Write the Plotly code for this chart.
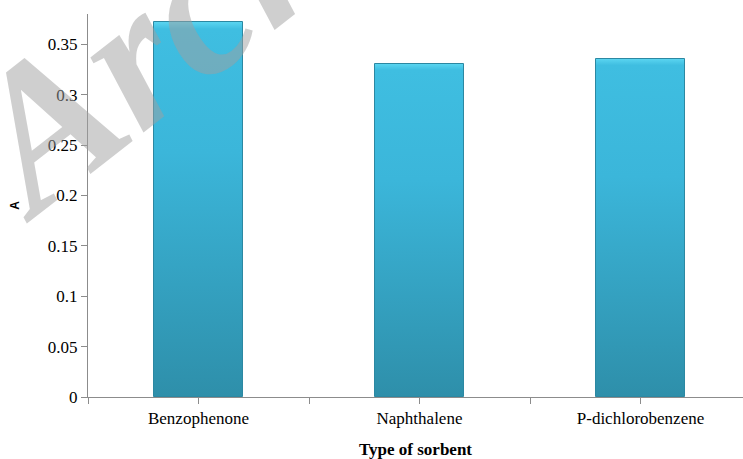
import plotly.graph_objects as go

categories = ["Benzophenone", "Naphthalene", "P-dichlorobenzene"]
values = [0.372, 0.330, 0.335]
y_ticks = [0, 0.05, 0.1, 0.15, 0.2, 0.25, 0.3, 0.35]
y_tick_text = ["0", "0.05", "0.1", "0.15", "0.2", "0.25", "0.3", "0.35"]

W, H = 743, 459
ML, MT, MB, MR = 88, 14, 62, 0
PW = W - ML - MR
PH = H - MT - MB

xpos = list(range(len(categories)))
xtickvals = []
xticktext = []
for i, c in enumerate(categories):
    xtickvals += [i - 0.5, i]
    xticktext += ["", c]
xtickvals.append(len(categories) - 0.5)
xticktext.append("")

fig = go.Figure()
fig.add_trace(go.Bar(
    x=xpos, y=values, width=0.4,
    marker=dict(color="#37AED1", line=dict(color="#2C88A2", width=1)),
    hoverinfo="skip",
))

def px_x(p):
    return (p - ML) / PW

def px_y(p):
    return 1 - (p - MT) / PH

fig.add_annotation(
    text="<b><i>Archive of SID</i></b>",
    xref="paper", yref="paper",
    x=px_x(-86), y=px_y(261), xanchor="left", yanchor="bottom",
    showarrow=False, textangle=-38,
    font=dict(family="Liberation Serif", size=200, color="rgba(160,160,160,0.5)"),
)

fig.update_layout(
    width=W, height=H,
    margin=dict(l=ML, r=MR, t=MT, b=MB, autoexpand=False),
    plot_bgcolor="white", paper_bgcolor="white",
    showlegend=False,
    bargap=0,
    xaxis=dict(
        range=[-0.5, -0.5 + PW / 221.0],
        automargin=False,
        tickmode="array", tickvals=xtickvals, ticktext=xticktext,
        ticks="outside", ticklen=6, tickcolor="#8c8c8c",
        showline=True, linecolor="#8c8c8c", linewidth=1,
        showgrid=False, zeroline=False,
        tickfont=dict(family="Liberation Serif", size=17, color="black"),
        title=dict(text="<b>Type of sorbent</b>", standoff=16,
                   font=dict(family="Liberation Serif", size=17, color="black")),
    ),
    yaxis=dict(
        range=[0, 0.38],
        automargin=False,
        tickmode="array", tickvals=y_ticks, ticktext=y_tick_text,
        ticks="outside", ticklen=6, tickcolor="#8c8c8c",
        showline=True, linecolor="#8c8c8c", linewidth=1,
        showgrid=False, zeroline=False,
        tickfont=dict(family="Liberation Serif", size=17, color="black"),
        title=dict(text="<b>A</b>", standoff=25,
                   font=dict(family="Liberation Sans", size=12, color="black")),
    ),
)

post_js = """
document.body.style.margin = '0';
document.body.style.padding = '0';
document.body.style.overflow = 'hidden';
var gd = document.getElementById('{plot_id}');
function applyGrad() {
  var svg = gd.querySelector('svg.main-svg');
  if (!svg) return;
  var ns = 'http://www.w3.org/2000/svg';
  var defs = svg.querySelector('defs');
  if (!defs) { defs = document.createElementNS(ns, 'defs'); svg.insertBefore(defs, svg.firstChild); }
  if (!svg.querySelector('#barGrad')) {
    var g = document.createElementNS(ns, 'linearGradient');
    g.setAttribute('id', 'barGrad');
    g.setAttribute('x1', '0'); g.setAttribute('y1', '0');
    g.setAttribute('x2', '0'); g.setAttribute('y2', '1');
    var stops = [['0', '#5CD6F1'], ['0.02', '#3FBEE1'], ['0.35', '#3BB6DA'], ['1', '#2E8FAA']];
    stops.forEach(function(s) {
      var st = document.createElementNS(ns, 'stop');
      st.setAttribute('offset', s[0]);
      st.setAttribute('stop-color', s[1]);
      g.appendChild(st);
    });
    defs.appendChild(g);
  }
  gd.querySelectorAll('.barlayer .point path').forEach(function(p) {
    p.style.fill = 'url(#barGrad)';
  });
}
applyGrad();
gd.on && gd.on('plotly_afterplot', applyGrad);
"""

fig.write_html("out.html", post_script=post_js, config={"displayModeBar": False})
